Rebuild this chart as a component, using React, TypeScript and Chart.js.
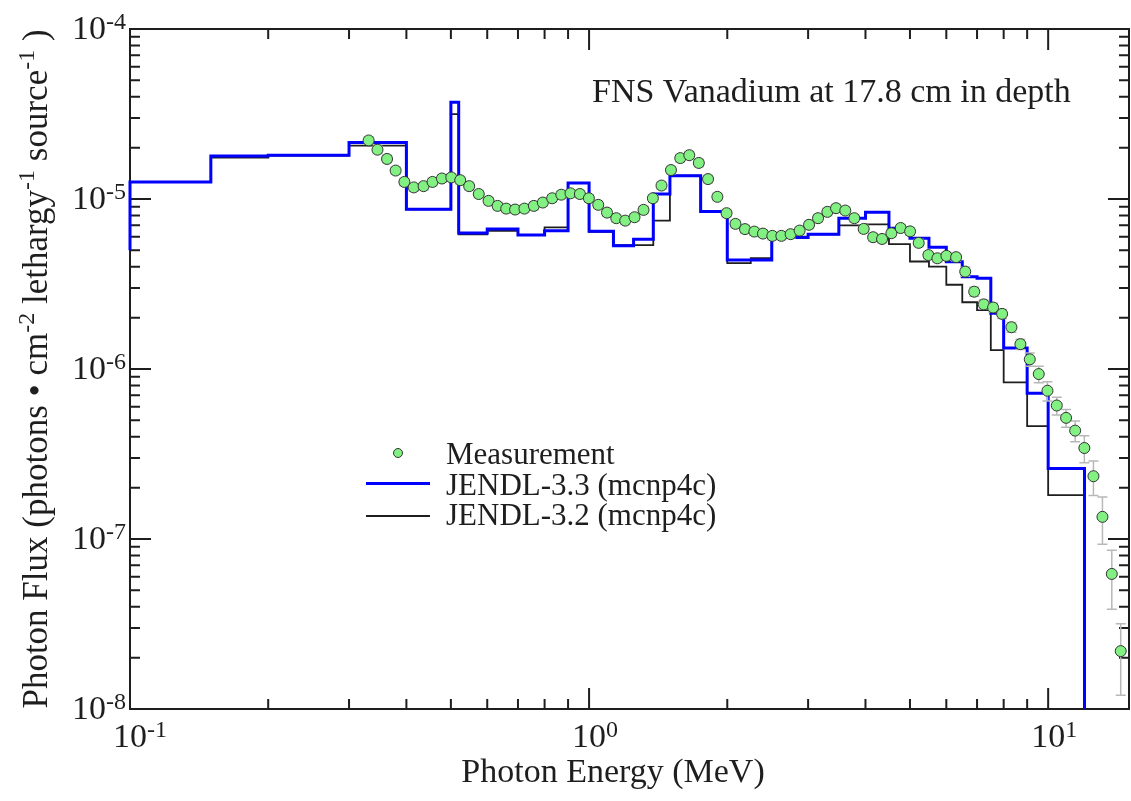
import React, { useEffect, useRef } from "react";
import { Chart, registerables } from "chart.js";
Chart.register(...registerables);

const FONT = "'Liberation Serif', 'Times New Roman', Times, serif";
const INK = "#1e1e1e";

// ---- Measurement (photon energy MeV, flux, relative error) ----
const measEnergy = [
  0.331, 0.346, 0.363, 0.379, 0.396, 0.415, 0.436, 0.456, 0.478, 0.501,
  0.524, 0.548, 0.575, 0.604, 0.632, 0.66, 0.69, 0.723, 0.758, 0.793,
  0.831, 0.87, 0.911, 0.955, 0.999, 1.047, 1.094, 1.146, 1.199, 1.256,
  1.314, 1.377, 1.438, 1.508, 1.58, 1.653, 1.734, 1.816, 1.903, 1.993,
  2.084, 2.186, 2.291, 2.392, 2.507, 2.623, 2.748, 2.875, 3.014, 3.153,
  3.304, 3.451, 3.615, 3.782, 3.964, 4.156, 4.347, 4.555, 4.773, 5.003,
  5.224, 5.484, 5.737, 6.003, 6.302, 6.597, 6.901, 7.238, 7.587, 7.937,
  8.318, 8.7, 9.119, 9.539, 9.965, 10.44, 10.94, 11.45, 11.99, 12.55,
  13.13, 13.76, 14.39,
];
const measFlux = [
  2.21e-5, 1.95e-5, 1.72e-5, 1.47e-5, 1.26e-5, 1.17e-5, 1.19e-5, 1.26e-5, 1.32e-5, 1.34e-5,
  1.29e-5, 1.19e-5, 1.07e-5, 9.75e-6, 9.11e-6, 8.78e-6, 8.67e-6, 8.78e-6, 9.11e-6, 9.53e-6,
  1.01e-5, 1.06e-5, 1.08e-5, 1.07e-5, 1.01e-5, 9.24e-6, 8.32e-6, 7.71e-6, 7.46e-6, 7.81e-6,
  8.63e-6, 1.01e-5, 1.2e-5, 1.48e-5, 1.74e-5, 1.81e-5, 1.63e-5, 1.31e-5, 1.03e-5, 8.25e-6,
  7.14e-6, 6.65e-6, 6.43e-6, 6.26e-6, 6.07e-6, 6.07e-6, 6.21e-6, 6.52e-6, 7.05e-6, 7.71e-6,
  8.4e-6, 8.83e-6, 8.55e-6, 7.71e-6, 6.67e-6, 5.96e-6, 5.82e-6, 6.29e-6, 6.75e-6, 6.45e-6,
  5.52e-6, 4.68e-6, 4.48e-6, 4.63e-6, 4.55e-6, 3.74e-6, 2.85e-6, 2.4e-6, 2.3e-6, 2.11e-6,
  1.76e-6, 1.4e-6, 1.14e-6, 9.34e-7, 7.45e-7, 6.1e-7, 5.16e-7, 4.34e-7, 3.43e-7, 2.34e-7,
  1.35e-7, 6.23e-8, 2.19e-8,
];
const measRelErr = [
  0.05, 0.05, 0.05, 0.05, 0.05, 0.05, 0.05, 0.05, 0.05, 0.05,
  0.05, 0.05, 0.05, 0.05, 0.05, 0.05, 0.05, 0.05, 0.05, 0.05,
  0.05, 0.05, 0.05, 0.05, 0.05, 0.05, 0.05, 0.05, 0.05, 0.05,
  0.05, 0.05, 0.05, 0.05, 0.05, 0.05, 0.05, 0.05, 0.05, 0.05,
  0.05, 0.05, 0.05, 0.05, 0.05, 0.05, 0.05, 0.05, 0.05, 0.05,
  0.05, 0.05, 0.05, 0.05, 0.05, 0.05, 0.05, 0.05, 0.05, 0.05,
  0.05, 0.05, 0.05, 0.05, 0.05, 0.06, 0.06, 0.06, 0.06, 0.06,
  0.065, 0.07, 0.09, 0.11, 0.13, 0.12, 0.12, 0.14, 0.18, 0.23,
  0.31, 0.38, 0.45,
];

// ---- Calculations: histogram bin lower edges and bin values ----
const binEdges = [
  0.1, 0.1, 0.15, 0.2, 0.3, 0.4, 0.5, 0.52, 0.6, 0.7, 0.8, 0.9, 1.0, 1.13, 1.25, 1.38, 1.5,
  1.75, 2.0, 2.25, 2.5, 3.0, 3.5, 4.0, 4.5, 5.0, 5.5, 6.0, 6.5, 7.0, 7.5, 8.0, 9.0, 10, 12,
];
const jendl33 = [
  5.0e-6, 1.26e-5, 1.79e-5, 1.81e-5, 2.15e-5, 8.7e-6, 3.71e-5, 6.3e-6, 6.67e-6, 6.15e-6, 6.5e-6,
  1.24e-5, 6.45e-6, 5.3e-6, 5.8e-6, 1.07e-5, 1.37e-5, 8.43e-6, 4.38e-6, 4.38e-6, 5.93e-6, 6.2e-6,
  7.7e-6, 8.37e-6, 6.73e-6, 5.88e-6, 5.2e-6, 4.28e-6, 3.49e-6, 3.42e-6, 2.13e-6, 1.33e-6, 7.19e-7,
  2.6e-7, 1e-9,
];
const jendl32 = [
  5.0e-6, 1.26e-5, 1.75e-5, 1.8e-5, 2.06e-5, 8.7e-6, 3.16e-5, 6.2e-6, 6.5e-6, 6.15e-6, 6.8e-6,
  1.24e-5, 6.4e-6, 5.35e-6, 5.35e-6, 7.46e-6, 1.37e-5, 8.43e-6, 4.19e-6, 4.49e-6, 6.0e-6, 6.2e-6,
  7.0e-6, 7.1e-6, 5.42e-6, 4.29e-6, 4.0e-6, 3.13e-6, 2.47e-6, 2.22e-6, 1.29e-6, 8.35e-7, 4.61e-7,
  1.81e-7, 1e-9,
];

// ---- Axes ticks ----
const xMajorTicks = [0.1, 1, 10];
const xTickExponents = ["-1", "0", "1"];
const xMinorTicks = [0.2, 0.3, 0.4, 0.5, 0.6, 0.7, 0.8, 0.9, 2, 3, 4, 5, 6, 7, 8, 9];
const yMajorTicks = [1e-8, 1e-7, 1e-6, 1e-5, 1e-4];
const yTickExponents = ["-8", "-7", "-6", "-5", "-4"];
const yMinorTicks = [
  2e-8, 3e-8, 4e-8, 5e-8, 6e-8, 7e-8, 8e-8, 9e-8,
  2e-7, 3e-7, 4e-7, 5e-7, 6e-7, 7e-7, 8e-7, 9e-7,
  2e-6, 3e-6, 4e-6, 5e-6, 6e-6, 7e-6, 8e-6, 9e-6,
  2e-5, 3e-5, 4e-5, 5e-5, 6e-5, 7e-5, 8e-5, 9e-5,
];

const titleText = "FNS Vanadium at 17.8 cm in depth";
const xTitle = "Photon Energy (MeV)";
const seriesNames = ["Measurement", "JENDL-3.3 (mcnp4c)", "JENDL-3.2 (mcnp4c)"];
const MARK_FILL = "#82f082";
const BLUE = "#0000ff";

function drawPow(ctx: CanvasRenderingContext2D, exp: string, x: number, baseline: number, align: "center" | "right") {
  ctx.font = `34px ${FONT}`;
  const w10 = ctx.measureText("10").width;
  ctx.font = `24px ${FONT}`;
  const wExp = ctx.measureText(exp).width;
  const x10 = align === "center" ? x - w10 / 2 : x - w10 - wExp;
  ctx.textAlign = "left";
  ctx.textBaseline = "alphabetic";
  ctx.font = `34px ${FONT}`;
  ctx.fillText("10", x10, baseline);
  ctx.font = `24px ${FONT}`;
  ctx.fillText(exp, x10 + w10, baseline - 10);
}

const decor = {
  id: "decor",
  beforeDatasetsDraw(chart: any) {
    const { ctx, chartArea: a, scales } = chart;
    const xs = scales.x, ys = scales.y;
    ctx.save();
    ctx.strokeStyle = INK;
    ctx.lineWidth = 2;
    ctx.beginPath();
    const seg = (x1: number, y1: number, x2: number, y2: number) => {
      ctx.moveTo(x1, y1);
      ctx.lineTo(x2, y2);
    };
    xMajorTicks.forEach((v) => {
      const p = xs.getPixelForValue(v);
      seg(p, a.bottom, p, a.bottom - 21);
      seg(p, a.top, p, a.top + 21);
    });
    xMinorTicks.forEach((v) => {
      const p = xs.getPixelForValue(v);
      seg(p, a.bottom, p, a.bottom - 10);
      seg(p, a.top, p, a.top + 10);
    });
    yMajorTicks.forEach((v) => {
      const p = ys.getPixelForValue(v);
      seg(a.left, p, a.left + 21, p);
      seg(a.right, p, a.right - 21, p);
    });
    yMinorTicks.forEach((v) => {
      const p = ys.getPixelForValue(v);
      seg(a.left, p, a.left + 10, p);
      seg(a.right, p, a.right - 10, p);
    });
    ctx.stroke();
    ctx.strokeRect(a.left, a.top, a.right - a.left, a.bottom - a.top);
    ctx.restore();
  },
  beforeDatasetDraw(chart: any, args: any) {
    if (args.index !== 0) return;
    const { ctx, scales } = chart;
    const xs = scales.x, ys = scales.y;
    ctx.save();
    ctx.strokeStyle = "#b8b8b8";
    ctx.lineWidth = 1.5;
    ctx.beginPath();
    measEnergy.forEach((e, i) => {
      const px = xs.getPixelForValue(e);
      const f = measFlux[i];
      const r = measRelErr[i];
      const yt = ys.getPixelForValue(f * (1 + r));
      const yb = ys.getPixelForValue(f * (1 - r));
      ctx.moveTo(px, yt);
      ctx.lineTo(px, yb);
      ctx.moveTo(px - 5, yt);
      ctx.lineTo(px + 5, yt);
      ctx.moveTo(px - 5, yb);
      ctx.lineTo(px + 5, yb);
    });
    ctx.stroke();
    ctx.restore();
  },
  afterDraw(chart: any) {
    const { ctx, scales } = chart;
    const xs = scales.x, ys = scales.y;
    ctx.save();
    ctx.fillStyle = INK;
    // tick labels
    xMajorTicks.forEach((v, i) => drawPow(ctx, xTickExponents[i], xs.getPixelForValue(v), 747, "center"));
    yMajorTicks.forEach((v, i) => drawPow(ctx, yTickExponents[i], 126, ys.getPixelForValue(v) + 10, "right"));

    // x title
    ctx.font = `34px ${FONT}`;
    ctx.textAlign = "center";
    ctx.textBaseline = "alphabetic";
    ctx.fillText(xTitle, 613, 782);

    // y title (rotated) with superscripts
    const pieces: [string, boolean][] = [
      ["Photon Flux (photons \u2022 cm", false],
      ["-2", true],
      [" lethargy", false],
      ["-1", true],
      [" source", false],
      ["-1", true],
      [" )", false],
    ];
    const fnt = (sup: boolean) => (sup ? `24px ${FONT}` : `35px ${FONT}`);
    let total = 0;
    pieces.forEach(([t, s]) => {
      ctx.font = fnt(s);
      total += ctx.measureText(t).width;
    });
    ctx.save();
    ctx.translate(47, 369);
    ctx.rotate(-Math.PI / 2);
    ctx.textAlign = "left";
    let cx = -total / 2;
    pieces.forEach(([t, s]) => {
      ctx.font = fnt(s);
      ctx.fillText(t, cx, s ? -13 : 0);
      cx += ctx.measureText(t).width;
    });
    ctx.restore();

    // title
    ctx.font = `34px ${FONT}`;
    ctx.textAlign = "left";
    ctx.fillText(titleText, 592, 102);

    // legend
    ctx.font = `31px ${FONT}`;
    ctx.textAlign = "left";
    ctx.beginPath();
    ctx.arc(398, 453, 4.5, 0, Math.PI * 2);
    ctx.fillStyle = MARK_FILL;
    ctx.fill();
    ctx.strokeStyle = "#333";
    ctx.lineWidth = 1;
    ctx.stroke();
    ctx.fillStyle = INK;
    ctx.fillText(seriesNames[0], 446, 464);
    ctx.beginPath();
    ctx.strokeStyle = BLUE;
    ctx.lineWidth = 3;
    ctx.moveTo(366, 483.5);
    ctx.lineTo(430, 483.5);
    ctx.stroke();
    ctx.fillText(seriesNames[1], 446, 494.5);
    ctx.beginPath();
    ctx.strokeStyle = INK;
    ctx.lineWidth = 1.8;
    ctx.moveTo(366, 516);
    ctx.lineTo(430, 516);
    ctx.stroke();
    ctx.fillText(seriesNames[2], 446, 524.5);
    ctx.restore();
  },
};

export default function App() {
  const ref = useRef<HTMLCanvasElement>(null);
  useEffect(() => {
    const chart = new Chart(ref.current as HTMLCanvasElement, {
      type: "line",
      data: {
        datasets: [
          {
            label: seriesNames[0],
            data: measEnergy.map((e, i) => ({ x: e, y: measFlux[i] })),
            showLine: false,
            pointRadius: 5.5,
            pointBackgroundColor: MARK_FILL,
            pointBorderColor: "#333",
            pointBorderWidth: 1,
          },
          {
            label: seriesNames[1],
            data: binEdges.map((e, i) => ({ x: e, y: jendl33[i] })),
            stepped: true,
            borderColor: BLUE,
            borderWidth: 3,
            pointRadius: 0,
            fill: false,
            borderJoinStyle: "miter",
            clip: { left: 4, top: 0, right: 0, bottom: 0 },
          },
          {
            label: seriesNames[2],
            data: binEdges.map((e, i) => ({ x: e, y: jendl32[i] })),
            stepped: true,
            borderColor: INK,
            borderWidth: 1.8,
            pointRadius: 0,
            fill: false,
            borderJoinStyle: "miter",
            clip: { left: 4, top: 0, right: 0, bottom: 0 },
          },
        ],
      } as any,
      options: {
        responsive: false,
        animation: false,
        devicePixelRatio: 1,
        events: [],
        layout: { autoPadding: false, padding: { left: 130, top: 29, right: 2, bottom: 92 } },
        plugins: { legend: { display: false }, tooltip: { enabled: false } },
        scales: {
          x: { type: "logarithmic", min: 0.1, max: 15, display: false },
          y: { type: "logarithmic", min: 1e-8, max: 1e-4, display: false },
        },
      } as any,
      plugins: [decor],
    });
    return () => chart.destroy();
  }, []);
  return (
    <div style={{ position: "absolute", left: 0, top: 0, width: 1131, height: 801, background: "#fff" }}>
      <canvas ref={ref} width={1131} height={801} style={{ display: "block" }} />
    </div>
  );
}
